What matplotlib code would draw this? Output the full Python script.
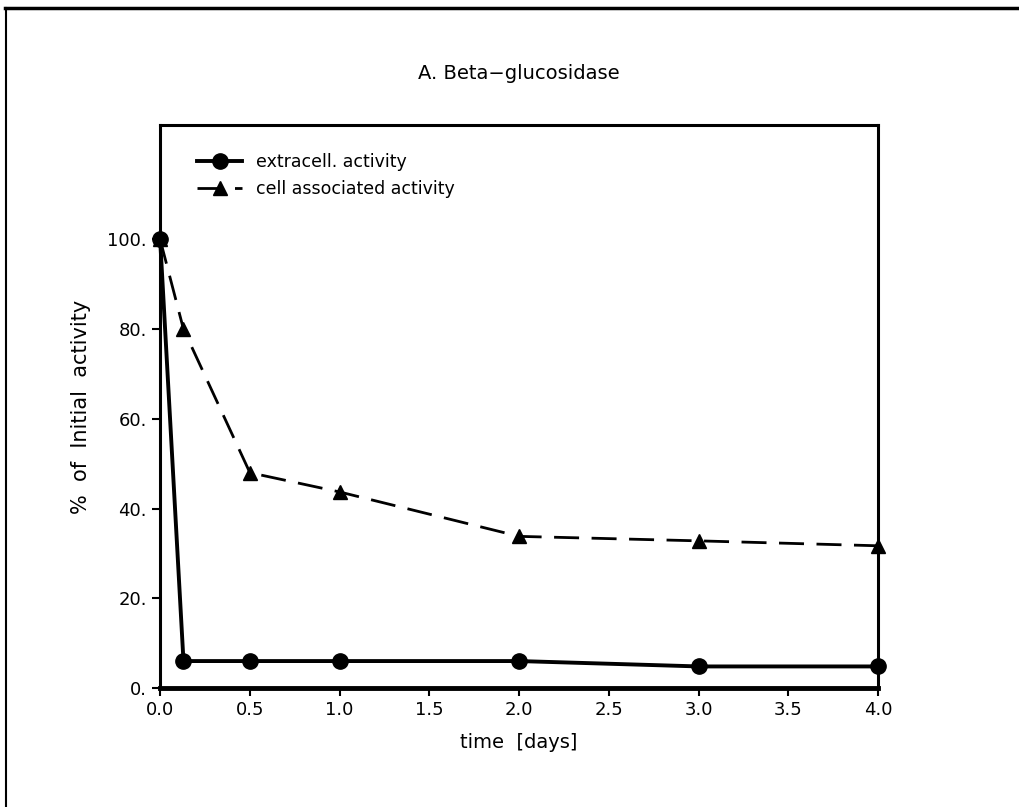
import matplotlib
matplotlib.use("Agg")
import matplotlib.pyplot as plt
from matplotlib.lines import Line2D
from matplotlib.ticker import FuncFormatter

# time points (days)
time_days = [0.0, 0.13, 0.5, 1.0, 2.0, 3.0, 4.0]
extracell = [100, 6, 6, 6, 6, 4.8, 4.8]
cell_assoc = [100, 80, 48, 43.7, 33.8, 32.8, 31.7]

x_ticks = [0.0, 0.5, 1.0, 1.5, 2.0, 2.5, 3.0, 3.5, 4.0]
y_ticks = [0, 20, 40, 60, 80, 100]

plt.rcParams['font.family'] = ['DejaVu Sans']

fig = plt.figure(figsize=(10.2, 8.07), dpi=100)
ax = fig.add_axes([0.157, 0.1475, 0.704, 0.6975])

ax.plot(time_days, extracell, '-', color='black', linewidth=2.8,
        marker='o', markersize=11, label='extracell. activity',
        clip_on=False, zorder=3)
line2, = ax.plot(time_days, cell_assoc, '--', color='black', linewidth=2,
                 marker='^', markersize=10, label='cell associated activity',
                 clip_on=False, zorder=3)
line2.set_dashes((9, 4.5))

ax.set_xlim(0, 4)
ax.set_ylim(0, 125.5)
ax.set_xticks(x_ticks)
ax.set_yticks(y_ticks)
ax.xaxis.set_major_formatter(FuncFormatter(lambda v, p: f'{v:.1f}'))
ax.yaxis.set_major_formatter(FuncFormatter(lambda v, p: f'{v:.0f}.'))
ax.tick_params(direction='out', length=6, width=1.5, labelsize=13, colors='black')

for side in ['left', 'right', 'top']:
    ax.spines[side].set_linewidth(2.2)
ax.spines['bottom'].set_linewidth(3.5)

ax.set_title('A. Beta\u2212glucosidase', fontsize=14, pad=33)
ax.set_xlabel('time  [days]', fontsize=14, labelpad=10)
ax.set_ylabel('%  of  Initial  activity', fontsize=15, labelpad=12)

ax.legend(loc='upper left', frameon=False, fontsize=12.5, handlelength=2.6,
          borderaxespad=0.9, labelspacing=0.5, bbox_to_anchor=(0.02, 0.99))

# scanned page border
fig.add_artist(Line2D([0.005, 1.0], [0.99, 0.99], color='black', linewidth=2.5,
                      transform=fig.transFigure))
fig.add_artist(Line2D([0.006, 0.006], [0.0, 0.99], color='black', linewidth=1.5,
                      transform=fig.transFigure))

plt.savefig('out.png', dpi=100)
